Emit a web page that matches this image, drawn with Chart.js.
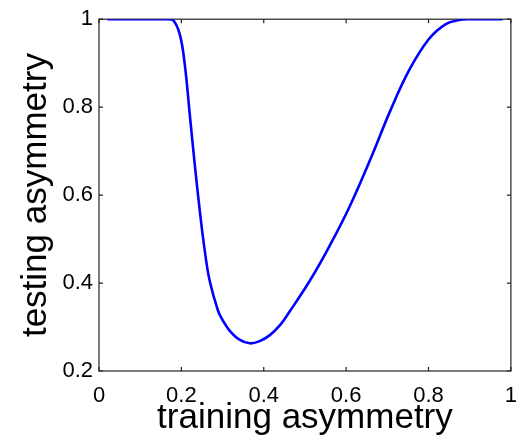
<!DOCTYPE html>
<html>
<head>
<meta charset="utf-8">
<script src="https://cdn.jsdelivr.net/npm/chart.js@4"></script>
<style>
  html, body { margin: 0; padding: 0; background: #fff; }
  canvas { display: block; }
</style>
</head>
<body>
<canvas id="chart" width="529" height="441"></canvas>
<script>
// data
const trainingAsym = [0.02, 0.08, 0.14, 0.165, 0.18, 0.196, 0.208, 0.22, 0.232, 0.245, 0.257, 0.269, 0.289, 0.30, 0.317, 0.34, 0.366, 0.39, 0.414, 0.44, 0.462, 0.511, 0.559, 0.608, 0.664, 0.705, 0.753, 0.801, 0.842, 0.874, 0.90, 0.94, 0.98];
const testingAsym  = [1, 1, 1, 1, 0.998, 0.966, 0.899, 0.787, 0.674, 0.562, 0.472, 0.404, 0.337, 0.316, 0.292, 0.272, 0.263, 0.268, 0.281, 0.305, 0.334, 0.404, 0.483, 0.573, 0.693, 0.787, 0.884, 0.955, 0.989, 0.998, 1, 1, 1];
const xTicks = [0, 0.2, 0.4, 0.6, 0.8, 1];
const yTicks = [0.2, 0.4, 0.6, 0.8, 1];

const fontFam = '"Liberation Sans", Arial, Helvetica, sans-serif';
const fmt = v => String(+(+v).toFixed(1));

// matlab style box with inward ticks on all sides
const boxPlugin = {
  id: 'box',
  beforeDatasetsDraw(chart) {
    const { ctx, chartArea: a, scales } = chart;
    const tl = 4;
    ctx.save();
    ctx.strokeStyle = '#222';
    ctx.lineWidth = 1.2;
    ctx.strokeRect(a.left, a.top, a.right - a.left, a.bottom - a.top);
    ctx.beginPath();
    xTicks.forEach(v => {
      const px = scales.x.getPixelForValue(v);
      ctx.moveTo(px, a.bottom); ctx.lineTo(px, a.bottom - tl);
      ctx.moveTo(px, a.top); ctx.lineTo(px, a.top + tl);
    });
    yTicks.forEach(v => {
      const py = scales.y.getPixelForValue(v);
      ctx.moveTo(a.left, py); ctx.lineTo(a.left + tl, py);
      ctx.moveTo(a.right, py); ctx.lineTo(a.right - tl, py);
    });
    ctx.stroke();
    ctx.restore();
  }
};

new Chart(document.getElementById('chart'), {
  type: 'line',
  data: {
    datasets: [{
      data: trainingAsym.map((x, i) => ({ x, y: testingAsym[i] })),
      borderColor: '#0000ff',
      borderWidth: 2.6,
      pointRadius: 0,
      fill: false,
      tension: 0.4
    }]
  },
  options: {
    responsive: false,
    animation: false,
    devicePixelRatio: 1,
    layout: { padding: { top: 15, right: 17, left: 0, bottom: 0 } },
    plugins: { legend: { display: false }, tooltip: { enabled: false } },
    scales: {
      x: {
        type: 'linear',
        min: 0, max: 1,
        afterBuildTicks: s => { s.ticks = xTicks.map(v => ({ value: v })); },
        afterFit: s => { s.height = 70; },
        grid: { display: false, drawTicks: false },
        border: { display: false },
        ticks: { color: '#000', padding: 12, maxRotation: 0, callback: fmt, font: { family: fontFam, size: 22 } },
        title: {
          display: true, text: 'training asymmetry', color: '#000',
          font: { family: fontFam, size: 35 }, padding: { top: 0, bottom: 2 }
        }
      },
      y: {
        type: 'linear',
        min: 0.2, max: 1,
        afterBuildTicks: s => { s.ticks = yTicks.map(v => ({ value: v })); },
        afterFit: s => { s.width = 99; },
        grid: { display: false, drawTicks: false },
        border: { display: false },
        ticks: { color: '#000', padding: 6, callback: fmt, font: { family: fontFam, size: 22 } },
        title: {
          display: true, text: 'testing asymmetry', color: '#000',
          font: { family: fontFam, size: 35 }, padding: { top: 15, bottom: 0 }
        }
      }
    }
  },
  plugins: [boxPlugin]
});
</script>
</body>
</html>
